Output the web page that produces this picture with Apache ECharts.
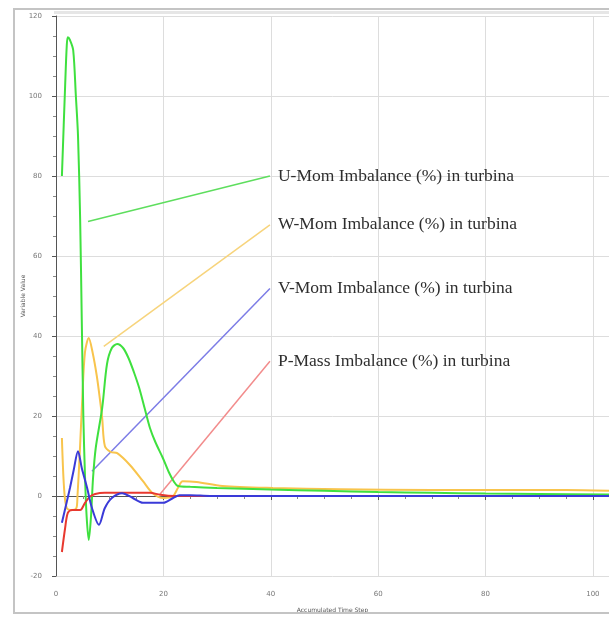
<!DOCTYPE html>
<html>
<head>
<meta charset="utf-8">
<script src="https://cdn.jsdelivr.net/npm/echarts@6/dist/echarts.min.js"></script>
<style>
html, body { margin: 0; padding: 0; background: #fff; }
#chart { width: 609px; height: 618px; }
</style>
</head>
<body>
<div id="chart"></div>
<script>
// residual curves (x = accumulated time step, y = imbalance %)
var uSteps = [1.1, 1.7, 2.0, 2.2, 2.6, 3.2, 3.7, 4.1, 4.5, 4.8, 5.1, 5.4, 5.7, 6.1, 6.5, 6.9, 7.4, 8.6, 9.5, 10.4, 11.4, 12.5, 13.5, 14.5, 15.5, 16.5, 17.5, 18.5, 19.9, 21, 22, 22.7, 25, 30, 40, 50, 60, 70, 80, 90, 103];
var uValues = [80, 102.5, 112.5, 114.7, 114, 111.5, 100, 90, 69, 44, 19.5, 5, -5, -11, -5.5, 4.5, 12, 22, 33, 37, 38, 37, 34.5, 31, 27, 22, 17, 13.5, 9.5, 6, 3.5, 2.5, 2.3, 2.0, 1.6, 1.3, 1.0, 0.8, 0.6, 0.5, 0.4];

var wSteps = [1.1, 1.5, 2.0, 3.0, 3.8, 4.0, 4.4, 4.9, 5.4, 6.1, 6.8, 7.6, 8.2, 8.6, 9.1, 10.2, 11.4, 13.8, 16.2, 18, 20, 21.8, 22.7, 23.6, 26.2, 31, 40.4, 52.9, 70, 95, 103];
var wValues = [14.5, 2, -3, -3.5, -3, 0, 10, 24.5, 36, 39.5, 36, 30, 24, 19.5, 12.5, 11, 10.7, 7.7, 3.7, 0.7, -0.5, 0, 2, 3.7, 3.5, 2.5, 2.0, 1.7, 1.5, 1.5, 1.3];

var vSteps = [1.1, 2.0, 2.6, 3.3, 4.1, 4.8, 5.8, 6.7, 8.0, 9.1, 10.4, 12.3, 14.3, 16.2, 20, 21.8, 23, 25, 28.7, 35, 50, 70, 90, 103];
var vValues = [-6.7, -1.5, 2, 6.5, 11.2, 7, 2, -3, -7.2, -3, -0.5, 0.7, -0.5, -1.7, -1.7, -0.5, 0.2, 0.2, 0, 0, 0, 0, 0, 0];

var pSteps = [1.1, 1.7, 2.2, 3.0, 4.5, 5.4, 6.3, 7.3, 9.1, 12, 17.5, 19.4, 22, 30, 50, 103];
var pValues = [-14, -8, -4.2, -3.5, -3.5, -1.7, -0.2, 0.5, 0.8, 0.8, 0.8, 0.3, 0, 0, 0, 0];

// annotation leader lines: [start, end] in data units
var uLeader = [[5.96, 68.6], [39.85, 80.0]];
var wLeader = [[8.9, 37.4], [39.85, 67.8]];
var vLeader = [[6.7, 6.2], [39.85, 51.9]];
var pLeader = [[19.4, 0.5], [39.85, 33.7]];

var xTicks = [0, 20, 40, 60, 80, 100];
var yTicks = [-20, 0, 20, 40, 60, 80, 100, 120];

function pairs(xs, ys) {
    var out = [];
    for (var i = 0; i < xs.length; i++) { out.push([xs[i], ys[i]]); }
    return out;
}

function curve(name, xs, ys, color) {
    return {
	name: name, type: 'line', data: pairs(xs, ys), smooth: 0.3,
	showSymbol: false, lineStyle: { color: color, width: 2 }, z: 3
    };
}

function leader(name, pts, color) {
    return {
	name: name, type: 'line', data: pts, showSymbol: false, z: 2,
	lineStyle: { color: color, width: 1.5 },
	endLabel: {
	    show: true, formatter: name, distance: 8,
	    fontFamily: 'Liberation Serif', fontSize: 17.5, color: '#2e2e2e'
	}
    };
}

var axisText = { fontFamily: 'DejaVu Sans', fontSize: 7, color: '#777' };

var option = {
    backgroundColor: '#fff',
    animation: false,
    grid: { left: 56, right: 0, top: 16, bottom: 40 },
    xAxis: {
	type: 'value', min: xTicks[0], max: 103, interval: 20, offset: 7,
	name: 'Accumulated Time Step', nameLocation: 'middle', nameGap: 24,
	nameMoveOverlap: false,
	nameTextStyle: { fontFamily: 'DejaVu Sans', fontSize: 6, color: '#555' },
	axisLine: { lineStyle: { color: '#555', width: 1 } },
	axisTick: { show: true, length: 4, lineStyle: { color: '#555' } },
	minorTick: { show: true, splitNumber: 4, length: 3, lineStyle: { color: '#888' } },
	axisLabel: Object.assign({ margin: 8, showMaxLabel: false }, axisText),
	splitLine: { show: true, lineStyle: { color: '#ddd', width: 1 } }
    },
    yAxis: {
	type: 'value', min: yTicks[0], max: yTicks[yTicks.length - 1], interval: 20, offset: 4,
	name: 'Variable Value', nameLocation: 'middle', nameGap: 26, nameRotate: 90,
	nameMoveOverlap: false,
	nameTextStyle: { fontFamily: 'DejaVu Sans', fontSize: 6, color: '#555' },
	axisLine: { show: true, lineStyle: { color: '#555', width: 1 } },
	axisTick: { show: true, length: 4, lineStyle: { color: '#555' } },
	minorTick: { show: true, splitNumber: 4, length: 3, lineStyle: { color: '#888' } },
	axisLabel: Object.assign({ margin: 10 }, axisText),
	splitLine: { show: true, lineStyle: { color: '#ddd', width: 1 } }
    },
    graphic: [
	{ type: 'rect', shape: { x: 13, y: 8, width: 2, height: 606 }, style: { fill: '#c4c4c4' }, z: 100 },
	{ type: 'rect', shape: { x: 13, y: 8, width: 596, height: 2 }, style: { fill: '#c4c4c4' }, z: 100 },
	{ type: 'rect', shape: { x: 13, y: 612, width: 596, height: 2 }, style: { fill: '#c4c4c4' }, z: 100 },
	{ type: 'rect', shape: { x: 54, y: 11, width: 555, height: 3 }, style: { fill: '#e6e6e6' }, z: 100 }
    ],
    series: [
	leader('U-Mom Imbalance (%) in turbina', uLeader, '#5ede5e'),
	leader('W-Mom Imbalance (%) in turbina', wLeader, '#f7d47c'),
	leader('V-Mom Imbalance (%) in turbina', vLeader, '#7c7ce6'),
	leader('P-Mass Imbalance (%) in turbina', pLeader, '#f28c8c'),
	curve('W-Mom', wSteps, wValues, '#f8c44c'),
	curve('U-Mom', uSteps, uValues, '#3fe03f'),
	curve('P-Mass', pSteps, pValues, '#e8392f'),
	curve('V-Mom', vSteps, vValues, '#3a3ad8')
    ]
};

var myChart = echarts.init(document.getElementById('chart'));
myChart.setOption(option);
</script>
</body>
</html>
